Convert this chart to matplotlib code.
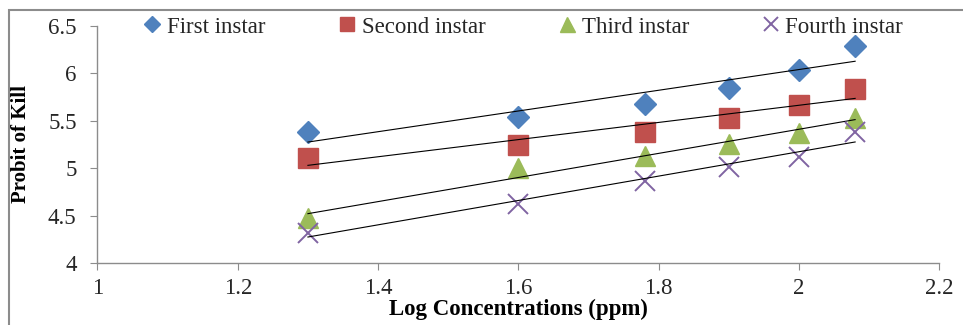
import numpy as np
import matplotlib
matplotlib.use("Agg")
import matplotlib.pyplot as plt
from matplotlib.patches import Rectangle

plt.rcParams['font.family'] = ['Liberation Serif', 'DejaVu Serif']

# log concentrations (ppm)
log_conc = [1.3, 1.6, 1.78, 1.9, 2.0, 2.08]

# probit of kill per larval instar
first_instar = [5.38, 5.54, 5.68, 5.85, 6.04, 6.29]
second_instar = [5.11, 5.24, 5.38, 5.53, 5.67, 5.84]
third_instar = [4.47, 5.00, 5.13, 5.26, 5.37, 5.53]
fourth_instar = [4.32, 4.62, 4.87, 5.01, 5.12, 5.38]

labels = ['First instar', 'Second instar', 'Third instar', 'Fourth instar']
xticks = [1, 1.2, 1.4, 1.6, 1.8, 2, 2.2]
yticks = [4, 4.5, 5, 5.5, 6, 6.5]

fig = plt.figure(figsize=(9.63, 3.25), dpi=100)
ax = fig.add_axes([0.1012, 0.1908, 0.8742, 0.7292])

# gray outer frame (cropped on the right and bottom)
fig.patches.append(Rectangle((9 / 963, -0.1), 1.1, 1 - 10 / 325 + 0.1,
                             transform=fig.transFigure, fill=False,
                             edgecolor='#8c8c8c', lw=1.5))

styles = [
    dict(marker='D', color='#4F81BD', ms=11),
    dict(marker='s', color='#C0504D', ms=14),
    dict(marker='^', color='#9BBB59', ms=15),
    dict(marker='x', color='#8064A2', ms=14, mew=1.4),
]
series = [first_instar, second_instar, third_instar, fourth_instar]

x = np.array(log_conc)
handles = []
for ys, st, lab in zip(series, styles, labels):
    h, = ax.plot(x, ys, linestyle='none', label=lab, **st)
    handles.append(h)
    k, b = np.polyfit(x, ys, 1)
    ax.plot([x[0], x[-1]], [k * x[0] + b, k * x[-1] + b], color='black', lw=0.8)

ax.set_xlim(1, 2.2)
ax.set_ylim(4, 6.5)
ax.set_xticks(xticks)
ax.set_xticklabels(['1', '1.2', '1.4', '1.6', '1.8', '2', '2.2'])
ax.set_yticks(yticks)
ax.set_yticklabels(['4', '4.5', '5', '5.5', '6', '6.5'])
for s in ['top', 'right']:
    ax.spines[s].set_visible(False)
for s in ['left', 'bottom']:
    ax.spines[s].set_color('#8c8c8c')
    ax.spines[s].set_linewidth(1.0)
ax.tick_params(axis='both', direction='out', length=5, color='#8c8c8c',
               labelsize=16.5, labelcolor='#262626')
ax.tick_params(axis='y', pad=10)
ax.tick_params(axis='x', pad=6)

ax.set_xlabel('Log Concentrations (ppm)', fontsize=16.5, fontweight='bold', labelpad=0)
ax.set_ylabel('Probit of Kill', fontsize=15, fontweight='bold', labelpad=12)

fig.legend(handles=handles, labels=labels, ncol=4, frameon=False,
           loc='center left', bbox_to_anchor=(143 / 963, 1 - 27 / 325),
           fontsize=16.5, markerscale=0.72, handlelength=0.8, handletextpad=0.25,
           columnspacing=3.15, borderpad=0, borderaxespad=0, labelcolor='#262626')

fig.savefig('out.png', dpi=100)
